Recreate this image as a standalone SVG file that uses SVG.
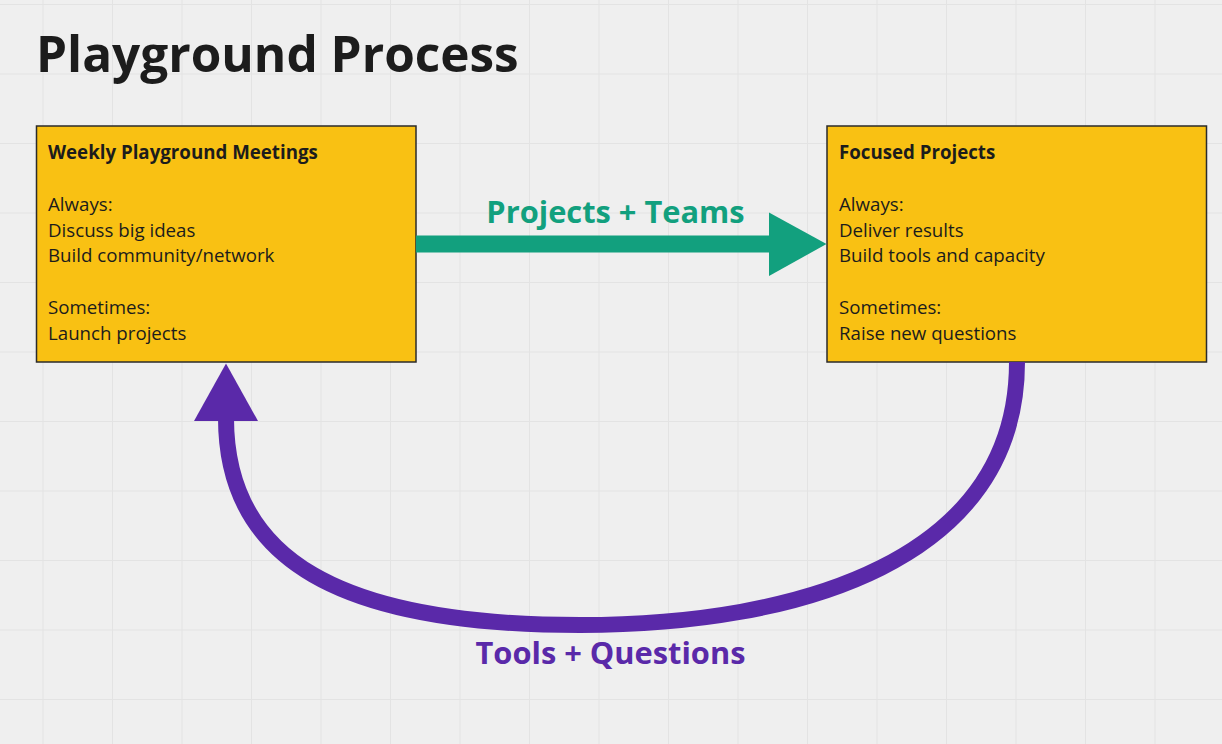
<svg xmlns="http://www.w3.org/2000/svg" width="1222" height="744" viewBox="0 0 1222 744">
<defs>
<pattern id="grid" x="42.5" y="4" width="69.5" height="69.5" patternUnits="userSpaceOnUse">
<path d="M0.5,0 V69.5 M0,0.5 H69.5" fill="none" stroke="#e3e3e3" stroke-width="1"/>
</pattern>
</defs>
<style>
.box{fill:#f9c113;stroke:#2b2b2b;stroke-width:1.5}
.t{font-family:"Open Sans","Noto Sans",sans-serif;font-size:18.7px;fill:#1c1c1c}
.b{font-weight:bold}
.lbl{font-family:"Open Sans","Noto Sans",sans-serif;font-size:30.8px;font-weight:bold;text-anchor:middle}
</style>
<rect width="1222" height="744" fill="#efefef"/>
<rect width="1222" height="744" fill="url(#grid)"/>
<text x="36" y="72" font-family="'Open Sans','Noto Sans',sans-serif" font-size="49.5" font-weight="bold" fill="#1c1c1c">Playground Process</text>
<g id="node-weekly">
<rect class="box" x="36.5" y="126" width="379.5" height="236"/>
<text class="t b" x="48" y="159">Weekly Playground Meetings</text>
<text class="t" x="48" y="211">Always:</text>
<text class="t" x="48" y="236.5">Discuss big ideas</text>
<text class="t" x="48" y="262">Build community/network</text>
<text class="t" x="48" y="314">Sometimes:</text>
<text class="t" x="48" y="339.5">Launch projects</text>
</g>
<g id="node-focused">
<rect class="box" x="827" y="126" width="379.5" height="236"/>
<text class="t b" x="839" y="159">Focused Projects</text>
<text class="t" x="839" y="211">Always:</text>
<text class="t" x="839" y="236.5">Deliver results</text>
<text class="t" x="839" y="262">Build tools and capacity</text>
<text class="t" x="839" y="314">Sometimes:</text>
<text class="t" x="839" y="339.5">Raise new questions</text>
</g>
<g id="connectors">
<path d="M416,244 H772" stroke="#12a07e" stroke-width="17" fill="none"/>
<polygon points="769,212.5 826.5,244 769,276" fill="#12a07e"/>
<text class="lbl" x="615.5" y="223" fill="#12a07e">Projects + Teams</text>
<path d="M1017,362 C1017,560 800,625 580,625 C340,625 226,560 226,418" stroke="#5a29a9" stroke-width="16" fill="none"/>
<polygon points="194,421 226,363.5 258,421" fill="#5a29a9"/>
<text class="lbl" x="610.5" y="664" fill="#5a29a9">Tools + Questions</text>
</g>
</svg>
